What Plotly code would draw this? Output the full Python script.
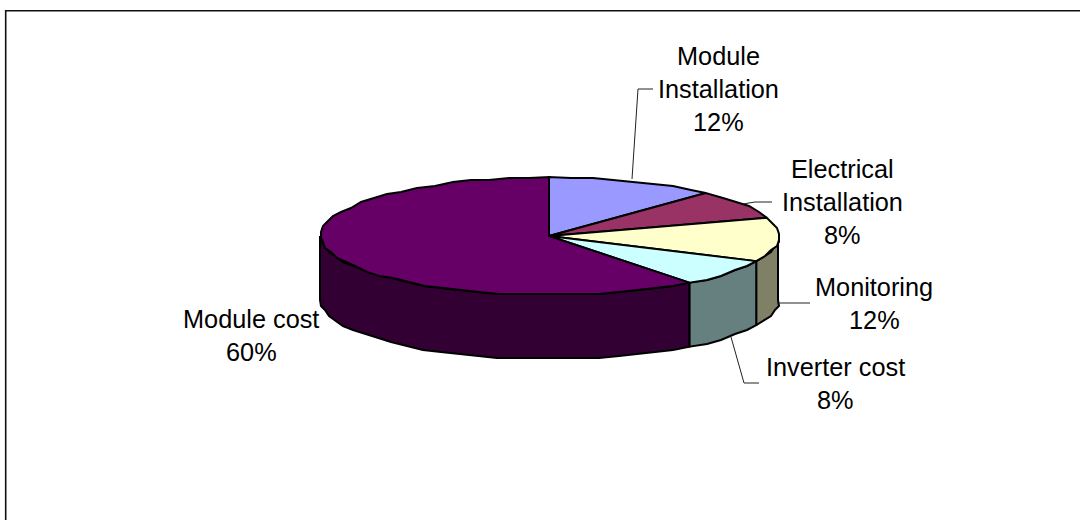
import numpy as np
import plotly.graph_objects as go

# ---- data ----
categories = ["Module<br>Installation", "Electrical<br>Installation", "Monitoring", "Inverter cost", "Module cost"]
values = [12.0, 8.0, 12.0, 7.5, 60.5]
pct_labels = ["12%", "8%", "12%", "8%", "60%"]

# ---- style ----
top_colors = ["#9999FF", "#993366", "#FFFFCC", "#CCFFFF", "#660066"]
side_colors = ["#4D4D80", "#4D1A33", "#808066", "#668080", "#330033"]
CX, CY, RX, RY, DEPTH = 549, 236, 229, 59, 64
FONT = 25.3
LINE_H = 33
EDGE_W = 2
GRID = 2          # light vertex snapping: the source rim is slightly stepped
STEP_DEG = 5
label_anchor = [(718, 56), (842, 169), (874, 287), (835, 367), (251, 319)]
leaders = [
    [(632, 179), (638, 89), (653, 89)],
    [(743, 204), (755, 202), (772, 202)],
    [(777, 303), (810, 303)],
    [(731, 337), (744, 383), (759, 383)],
]

def rim(a, b):
    n = max(int(np.degrees(b - a) / STEP_DEG), 2)
    t = np.linspace(a, b, n + 1)
    x = CX + RX * np.sin(t)
    y = CY - RY * np.cos(t)
    x[1:-1] = np.round(x[1:-1] / GRID) * GRID + 1
    y[1:-1] = np.round(y[1:-1] / GRID) * GRID
    return x, y

fig = go.Figure()
edges = np.cumsum([0] + values) / sum(values) * 2 * np.pi

# side walls (only the front half of the rim is visible)
for i in range(len(values)):
    a, b = max(edges[i], np.pi / 2), min(edges[i + 1], 3 * np.pi / 2)
    if b <= a:
        continue
    x, y = rim(a, b)
    fig.add_trace(go.Scatter(
        x=np.r_[x, x[::-1], x[0]], y=np.r_[y, y[::-1] + DEPTH, y[0]],
        mode="lines", fill="toself", fillcolor=side_colors[i],
        line=dict(color="black", width=EDGE_W), hoverinfo="skip", showlegend=False))

# top faces
for i in range(len(values)):
    x, y = rim(edges[i], edges[i + 1])
    fig.add_trace(go.Scatter(
        x=np.r_[CX, x, CX], y=np.r_[CY, y, CY],
        mode="lines", fill="toself", fillcolor=top_colors[i],
        line=dict(color="black", width=EDGE_W), hoverinfo="skip", showlegend=False))

# leader lines
for path in leaders:
    fig.add_trace(go.Scatter(
        x=[p[0] for p in path], y=[p[1] for p in path], mode="lines",
        line=dict(color="#222222", width=1), hoverinfo="skip", showlegend=False))

# labels
for cat, pct, (ax, ay) in zip(categories, pct_labels, label_anchor):
    for j, line in enumerate(cat.split("<br>") + [pct]):
        fig.add_annotation(x=ax, y=ay + j * LINE_H, text=line, showarrow=False,
                           xanchor="center", yanchor="middle",
                           font=dict(family="Liberation Sans", size=FONT, color="black"))

# outer frame: only the top and left edges fall inside the picture
fig.add_shape(type="line", x0=5.7, y0=10.7, x1=1080, y1=10.7, line=dict(color="#111111", width=1.6))
fig.add_shape(type="line", x0=5.7, y0=10, x1=5.7, y1=520, line=dict(color="#111111", width=1.6))

fig.update_layout(
    width=1080, height=520, margin=dict(l=0, r=0, t=0, b=0),
    paper_bgcolor="white", plot_bgcolor="white", showlegend=False,
    xaxis=dict(range=[0, 1080], visible=False, fixedrange=True),
    yaxis=dict(range=[520, 0], visible=False, fixedrange=True),
)
fig.write_html("out.html", post_script="document.body.style.margin='0';document.body.style.overflow='hidden';",
               config={"displayModeBar": False})
